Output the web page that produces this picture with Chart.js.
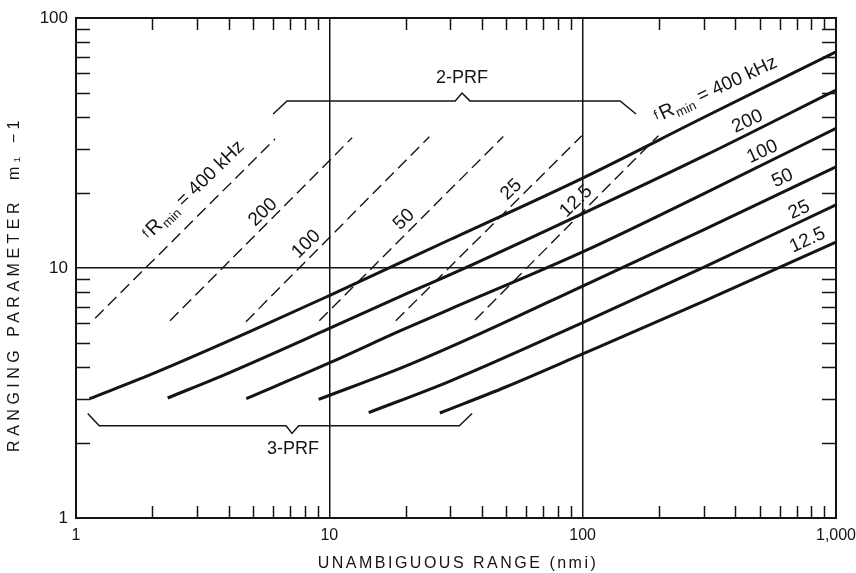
<!DOCTYPE html>
<html>
<head>
<meta charset="utf-8">
<script src="https://cdn.jsdelivr.net/npm/chart.js@4.4.1/dist/chart.umd.min.js"></script>
<style>
html,body{margin:0;padding:0;background:#fff;}
canvas{display:block;}
</style>
</head>
<body>
<canvas id="c" width="856" height="573"></canvas>
<script>
// ---------- data ----------
const xTickValues = [1, 10, 100, 1000];
const xTickText   = ['1', '10', '100', '1,000'];
const yTickValues = [1, 10, 100];
const yTickText   = ['1', '10', '100'];
const freqNames   = ['400', '200', '100', '50', '25', '12.5'];

// solid curves: unambiguous range (nmi) vs ranging parameter m1-1
const range400 = [1.13, 2, 5, 10, 30, 100, 300, 1000];
const param400 = [3.0, 3.77, 5.64, 7.76, 13.0, 22.9, 40, 73.3];
const range200 = [2.3, 4, 10, 19, 30, 100, 300, 1000];
const param200 = [3.02, 3.8, 5.73, 7.68, 9.4, 16.5, 28, 51.5];
const range100 = [4.7, 10, 19, 30, 100, 300, 1000];
const param100 = [3.0, 4.17, 5.6, 6.85, 11.6, 19.8, 36.2];
const range50  = [9.07, 20, 40, 100, 300, 1000];
const param50  = [2.98, 4.05, 5.5, 8.47, 14.2, 25.4];
const range25  = [14.3, 30, 100, 300, 1000];
const param25  = [2.64, 3.53, 6.05, 10.05, 17.9];
const range12  = [27.3, 50, 100, 300, 1000];
const param12  = [2.63, 3.35, 4.53, 7.35, 12.7];

// dashed (2-PRF) lines
const dashRange400 = [1.19, 6.1];
const dashParam400 = [6.3, 32.8];
const dashRange200 = [2.35, 12.3];
const dashParam200 = [6.15, 33.2];
const dashRange100 = [4.69, 24.8];
const dashParam100 = [6.1, 33.5];
const dashRange50  = [9.13, 48.6];
const dashParam50  = [6.15, 33.6];
const dashRange25  = [18.3, 99.2];
const dashParam25  = [6.15, 33.8];
const dashRange12  = [37.6, 199];
const dashParam12  = [6.2, 33.8];

// bracket annotations (data space)
const bracket2Range = [6.0, 6.81, 31.4, 33.4, 35.9, 140.6, 162.4];
const bracket2Param = [41.3, 46.6, 46.6, 50.1, 46.6, 46.6, 41.3];
const bracket3Range = [1.112, 1.236, 6.75, 7.12, 7.57, 32.6, 36.6];
const bracket3Param = [2.62, 2.34, 2.34, 2.18, 2.34, 2.34, 2.62];

// ---------- presentation ----------
const INK = '#141414';
const FAMILY = '"Liberation Sans", Arial, Helvetica, sans-serif';

function pts(xs, ys) { return xs.map((x, i) => ({ x: x, y: ys[i] })); }

const solidSets = [
  [range400, param400], [range200, param200], [range100, param100],
  [range50, param50], [range25, param25], [range12, param12]
];
const dashSets = [
  [dashRange400, dashParam400], [dashRange200, dashParam200], [dashRange100, dashParam100],
  [dashRange50, dashParam50], [dashRange25, dashParam25], [dashRange12, dashParam12]
];

const datasets = [];
solidSets.forEach((s, i) => datasets.push({
  label: 'fRmin = ' + freqNames[i] + ' kHz (3-PRF)',
  data: pts(s[0], s[1]),
  borderColor: INK, borderWidth: 3, pointRadius: 0,
  cubicInterpolationMode: 'monotone', fill: false
}));
dashSets.forEach((s, i) => datasets.push({
  label: 'fRmin = ' + freqNames[i] + ' kHz (2-PRF)',
  data: pts(s[0], s[1]),
  borderColor: INK, borderWidth: 1.4, borderDash: [12, 6], pointRadius: 0, fill: false
}));

// label anchors (data space) and rotation
const solidLabelPos = [[333, 52.5], [444, 39.1], [509, 29.6], [611, 23.2], [711, 17.3], [767, 13.1]];
const dashLabelPos  = [[2.88, 20.7], [5.41, 16.9], [8.02, 12.6], [19.5, 15.8], [51.7, 20.8], [93.3, 18.7]];

function richParts(name, first) {
  if (!first) return [{ text: name, size: 19 }];
  return [
    { text: 'f', size: 13, dy: -3, gap: 2 },
    { text: 'R', size: 20, gap: 1 },
    { text: 'min', size: 13, dy: 4 },
    { text: ' = ' + name + ' kHz', size: 19 }
  ];
}

function drawRich(ctx, cx, cy, angleDeg, parts) {
  ctx.save();
  ctx.translate(cx, cy);
  ctx.rotate(angleDeg * Math.PI / 180);
  let total = 0;
  const widths = parts.map(p => {
    ctx.font = p.size + 'px ' + FAMILY;
    const w = ctx.measureText(p.text).width + (p.gap || 0);
    total += w;
    return w;
  });
  let x = -total / 2;
  ctx.textAlign = 'left';
  ctx.textBaseline = 'alphabetic';
  ctx.fillStyle = INK;
  parts.forEach((p, i) => {
    ctx.font = p.size + 'px ' + FAMILY;
    ctx.fillText(p.text, x, 7 + (p.dy || 0));
    x += widths[i];
  });
  ctx.restore();
}

const decorPlugin = {
  id: 'decor',
  afterDatasetsDraw(chart) {
    const ctx = chart.ctx;
    const xs = chart.scales.x, ys = chart.scales.y;
    const a = chart.chartArea;
    ctx.save();
    ctx.strokeStyle = INK;
    ctx.fillStyle = INK;

    // inward minor ticks on all four sides
    ctx.lineWidth = 1.5;
    const mult = [2, 3, 4, 5, 6, 7, 8, 9];
    [1, 10, 100].forEach(d => mult.forEach(m => {
      const v = m * d;
      if (v < 1000) {
        const px = Math.round(xs.getPixelForValue(v)) + 0.5;
        ctx.beginPath();
        ctx.moveTo(px, a.bottom); ctx.lineTo(px, a.bottom - 12);
        ctx.moveTo(px, a.top); ctx.lineTo(px, a.top + 12);
        ctx.stroke();
      }
      if (v < 100) {
        const py = Math.round(ys.getPixelForValue(v)) + 0.5;
        ctx.beginPath();
        ctx.moveTo(a.left, py); ctx.lineTo(a.left + 14, py);
        ctx.moveTo(a.right, py); ctx.lineTo(a.right - 14, py);
        ctx.stroke();
      }
    }));

    // frame
    ctx.lineWidth = 2;
    ctx.strokeRect(a.left, a.top, a.right - a.left, a.bottom - a.top);

    // brackets
    ctx.lineWidth = 1.5;
    [[bracket2Range, bracket2Param], [bracket3Range, bracket3Param]].forEach(b => {
      ctx.beginPath();
      b[0].forEach((xv, i) => {
        const px = xs.getPixelForValue(xv), py = ys.getPixelForValue(b[1][i]);
        if (i === 0) ctx.moveTo(px, py); else ctx.lineTo(px, py);
      });
      ctx.stroke();
    });

    // bracket captions
    ctx.font = '18px ' + FAMILY;
    ctx.textAlign = 'center';
    ctx.textBaseline = 'middle';
    ctx.fillText('2-PRF', xs.getPixelForValue(33.4), ys.getPixelForValue(57.3));
    ctx.fillText('3-PRF', xs.getPixelForValue(7.19), ys.getPixelForValue(1.88));

    // curve labels
    solidLabelPos.forEach((p, i) => drawRich(ctx, xs.getPixelForValue(p[0]), ys.getPixelForValue(p[1]), -25, richParts(freqNames[i], i === 0)));
    dashLabelPos.forEach((p, i) => drawRich(ctx, xs.getPixelForValue(p[0]), ys.getPixelForValue(p[1]), -44, richParts(freqNames[i], i === 0)));
    ctx.restore();
  }
};

function patchTitle(scale, spacing, dx, dy) {
  if (scale._titlePatched) return;
  const orig = scale.drawTitle;
  scale.drawTitle = function () {
    const c = this.ctx;
    c.save();
    c.letterSpacing = spacing;
    c.translate(dx, dy);
    orig.call(this);
    c.restore();
  };
  scale._titlePatched = true;
}

function gridColor(ctx) {
  const v = ctx.tick && ctx.tick.value;
  return (v === 10 || v === 100) ? INK : 'rgba(0,0,0,0)';
}

Chart.defaults.font.family = FAMILY;
Chart.defaults.color = INK;

new Chart(document.getElementById('c'), {
  type: 'line',
  data: { datasets: datasets },
  options: {
    responsive: false,
    animation: false,
    layout: { padding: { top: 18, right: 20, left: 0, bottom: 0 } },
    plugins: { legend: { display: false }, tooltip: { enabled: false } },
    scales: {
      x: {
        type: 'logarithmic', min: 1, max: 1000,
        afterBuildTicks: s => { s.ticks = xTickValues.map(v => ({ value: v })); },
        afterFit: s => { s.height = 55; s.paddingLeft = 0; s.paddingRight = 0; patchTitle(s, '2.5px', 2, 0); },
        ticks: {
          autoSkip: false, maxRotation: 0, padding: 8,
          font: { size: 16 }, color: INK,
          callback: v => { const i = xTickValues.indexOf(v); return i >= 0 ? xTickText[i] : ''; }
        },
        grid: { color: gridColor, lineWidth: 1.5, drawTicks: false },
        border: { display: false },
        title: { display: true, text: 'UNAMBIGUOUS RANGE (nmi)', font: { size: 16 }, color: INK, padding: { top: 0, bottom: 0 } }
      },
      y: {
        type: 'logarithmic', min: 1, max: 100,
        afterBuildTicks: s => { s.ticks = yTickValues.map(v => ({ value: v })); },
        afterFit: s => { s.width = 76; s.paddingTop = 0; s.paddingBottom = 0; patchTitle(s, '4.5px', 0, 16); },
        ticks: {
          autoSkip: false, padding: 8,
          font: { size: 17 }, color: INK,
          callback: v => { const i = yTickValues.indexOf(v); return i >= 0 ? yTickText[i] : ''; }
        },
        grid: { color: gridColor, lineWidth: 1.5, drawTicks: false },
        border: { display: false },
        title: { display: true, text: 'RANGING PARAMETER  m\u2081 \u22121', font: { size: 16 }, color: INK, padding: { top: 5, bottom: 0 } }
      }
    }
  },
  plugins: [decorPlugin]
});
</script>
</body>
</html>
